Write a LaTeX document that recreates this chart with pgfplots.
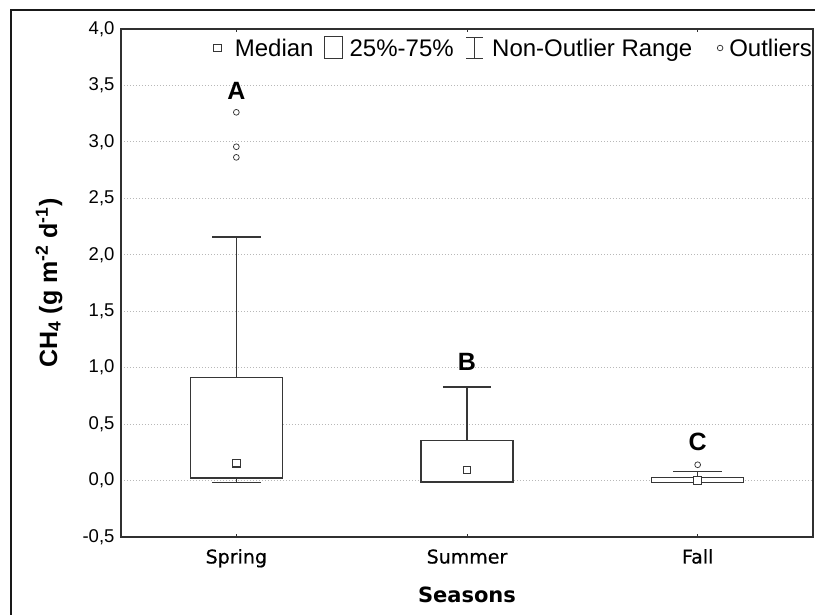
\documentclass[border=0pt]{standalone}
\usepackage{fontspec}
\setmainfont{Liberation Sans}
\newfontfamily\dejavu{DejaVu Sans}
\newfontfamily\dejavutick{DejaVu Sans}[FakeBold=0.6]
\usepackage{pgfplots}
\pgfplotsset{compat=1.18}
\usepgfplotslibrary{statistics}

\definecolor{boxline}{HTML}{363636}
\definecolor{axisline}{HTML}{303030}
\definecolor{gridgray}{HTML}{B8B8B8}

\pgfplotsset{
  seasonbox/.style={
    boxline, line width=1.3pt, fill=white, solid,
    mark=o, mark size=2.9pt, mark options={line width=0.75pt, fill=none},
    boxplot/draw direction=y,
    boxplot/whisker extend=0.21,
    boxplot/draw/median/.code={%
      \path (boxplot box cs:\pgfplotsboxplotvalue{median},0.5)
        node[draw=boxline, fill=white, line width=1.1pt, minimum size=7.5pt, inner sep=0pt] {};
    },
  },
}

\begin{document}
\begin{tikzpicture}[x=1pt,y=1pt]
\useasboundingbox (0,0) rectangle (815,615);
% outer frame of the figure
\draw[line width=2pt, black!90] (10.5,-20) -- (10.5,605) -- (840,605);
\begin{axis}[
  at={(121pt,78pt)}, anchor=south west,
  scale only axis, width=692pt, height=508pt,
  xmin=-0.5, xmax=2.5, ymin=-0.5, ymax=4.0,
  xtick={0,1,2}, xticklabels={Spring,Summer,Fall},
  ytick={-0.5,0,0.5,1,1.5,2,2.5,3,3.5,4},
  tick align=inside, major tick length=3pt,
  xtick style={draw=axisline, line width=1pt},
  ytick style={draw=none},
  axis line style={draw=axisline, line width=1.6pt},
  ymajorgrids,
  major grid style={gridgray, line width=1pt, dash pattern=on 1.3pt off 1.7pt},
  /pgf/number format/.cd, use comma, fixed, fixed zerofill, precision=1, assume math mode=true,
  /pgfplots/.cd,
  xticklabel style={font=\dejavutick\fontsize{19}{22}\selectfont, anchor=base, yshift=-26.5pt},
  yticklabel style={font=\fontsize{18.5}{22}\selectfont, xshift=-3pt},
  xlabel={Seasons},
  xlabel style={font=\dejavu\bfseries\fontsize{21}{24}\selectfont,
    at={(axis description cs:0.5,-0.1299)}, anchor=base},
  ylabel={CH\textsubscript{4} (g m\textsuperscript{-2} d\textsuperscript{-1})},
  ylabel style={font=\bfseries\fontsize{25}{28}\selectfont,
    at={(axis description cs:-0.104,0.5)}, anchor=center},
  legend columns=4,
  legend cell align=left,
  legend style={at={(axis description cs:1,1)}, anchor=east, yshift=-19pt, xshift=-1pt,
    draw=none, fill=none, inner sep=0pt, outer sep=0pt,
    font=\fontsize{24}{26}\selectfont,
    nodes={inner sep=0pt, text height=17.2pt, text depth=0pt},
    /tikz/every even column/.style={column sep=0pt}},
]

% Spring
\addplot[seasonbox, forget plot, boxplot prepared={draw position=0, box extend=0.4,
  median=0.153, lower quartile=0.023, upper quartile=0.911,
  lower whisker=-0.02, upper whisker=2.158}]
  table[row sep=\\, y index=0] {3.262\\ 2.957\\ 2.863\\};

% Summer
\addplot[seasonbox, forget plot, boxplot prepared={draw position=1, box extend=0.4,
  median=0.094, lower quartile=-0.012, upper quartile=0.353,
  lower whisker=-0.012, upper whisker=0.83}]
  coordinates {};

% Fall
\addplot[seasonbox, forget plot, boxplot prepared={draw position=2, box extend=0.4,
  median=0.0, lower quartile=-0.02, upper quartile=0.03,
  lower whisker=-0.02, upper whisker=0.08}]
  table[row sep=\\, y index=0] {0.14\\};

% group letters
\node[font=\bfseries\fontsize{25}{28}\selectfont] at (axis cs:0,3.45) {A};
\node[font=\bfseries\fontsize{25}{28}\selectfont] at (axis cs:1,1.05) {B};
\node[font=\bfseries\fontsize{25}{28}\selectfont] at (axis cs:2,0.34) {C};

% legend symbols
\addlegendimage{legend image code/.code={
  \draw[boxline, line width=1pt, fill=white] (0pt,-3.7pt) rectangle (7.4pt,3.7pt);
  \path[draw=none, fill=none] (-3pt,-4pt) rectangle (20.9pt,4pt);}}
\addlegendimage{legend image code/.code={
  \draw[boxline, line width=1pt, fill=none] (0pt,-11pt) rectangle (18.6pt,11pt);
  \path[draw=none, fill=none] (-10.5pt,-11pt) rectangle (25.6pt,11pt);}}
\addlegendimage{legend image code/.code={
  \draw[boxline, line width=1pt] (0pt,10.3pt) -- (17pt,10.3pt)
    (8.5pt,10.3pt) -- (8.5pt,-10.3pt) (0pt,-10.3pt) -- (17pt,-10.3pt);
  \path[draw=none, fill=none] (-12.5pt,-10.3pt) rectangle (26pt,10.3pt);}}
\addlegendimage{legend image code/.code={
  \draw[boxline, line width=0.75pt, fill=none] (2.8pt,0pt) circle[radius=2.8pt];
  \path[draw=none, fill=none] (-25pt,-3pt) rectangle (12pt,3pt);}}
\legend{Median, 25\%-75\%, Non-Outlier Range, Outliers}
\end{axis}
\end{tikzpicture}
\end{document}
